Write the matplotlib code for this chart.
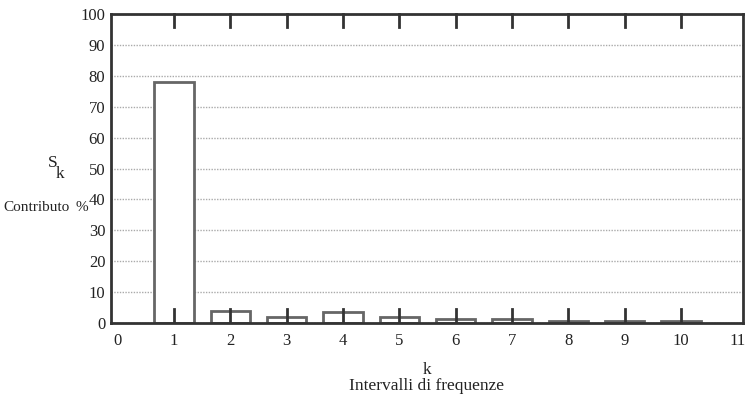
import matplotlib
matplotlib.use("Agg")
import matplotlib.pyplot as plt

categories = [1, 2, 3, 4, 5, 6, 7, 8, 9, 10]
values = [78, 4, 2, 3.5, 2, 1.2, 1.2, 0.6, 0.6, 0.6]
xticks = list(range(0, 12))
yticks = list(range(0, 101, 10))

plt.rcParams['font.family'] = ['Liberation Serif', 'DejaVu Serif']

fig = plt.figure(figsize=(7.49, 3.97), dpi=100)
ax = fig.add_axes([0.148, 0.186, 0.844, 0.779])

ax.bar(categories, values, width=0.7, facecolor='white', edgecolor='#666666',
       linewidth=2, zorder=2)

ax.set_xlim(-0.12, 11.1)
ax.set_ylim(0, 100)
ax.set_xticks(xticks)
ax.set_yticks(yticks)
ax.tick_params(axis='y', length=0, labelsize=12, pad=4, colors='#222')
ax.tick_params(axis='x', length=0, labelsize=12, pad=7, colors='#222')

# inward ticks at top and bottom for 1..10
for k in categories:
    ax.plot([k, k], [100, 95.8], color='#333', lw=2, zorder=3, clip_on=False)
    ax.plot([k, k], [0, 4.5], color='#333', lw=2, zorder=3)

ax.grid(axis='y', linestyle=(0, (1, 1)), color='#aaaaaa', linewidth=1, zorder=0)
ax.set_axisbelow(True)
for s in ax.spines.values():
    s.set_linewidth(2)
    s.set_color('#333')

fig.text(0.071, 0.59, 'S', fontsize=12.5, ha='center', va='center', color='#222')
fig.text(0.080, 0.562, 'k', fontsize=12.5, ha='center', va='center', color='#222')
fig.text(0.004, 0.478, 'Contributo', fontsize=11, ha='left', va='center', color='#222')
fig.text(0.109, 0.478, '%', fontsize=11, ha='center', va='center', color='#222')

fig.text(0.570, 0.068, 'k', fontsize=12.5, ha='center', va='center', color='#222')
fig.text(0.570, 0.028, 'Intervalli di frequenze', fontsize=12.5, ha='center', va='center', color='#222')

fig.savefig('out.png', dpi=100)
